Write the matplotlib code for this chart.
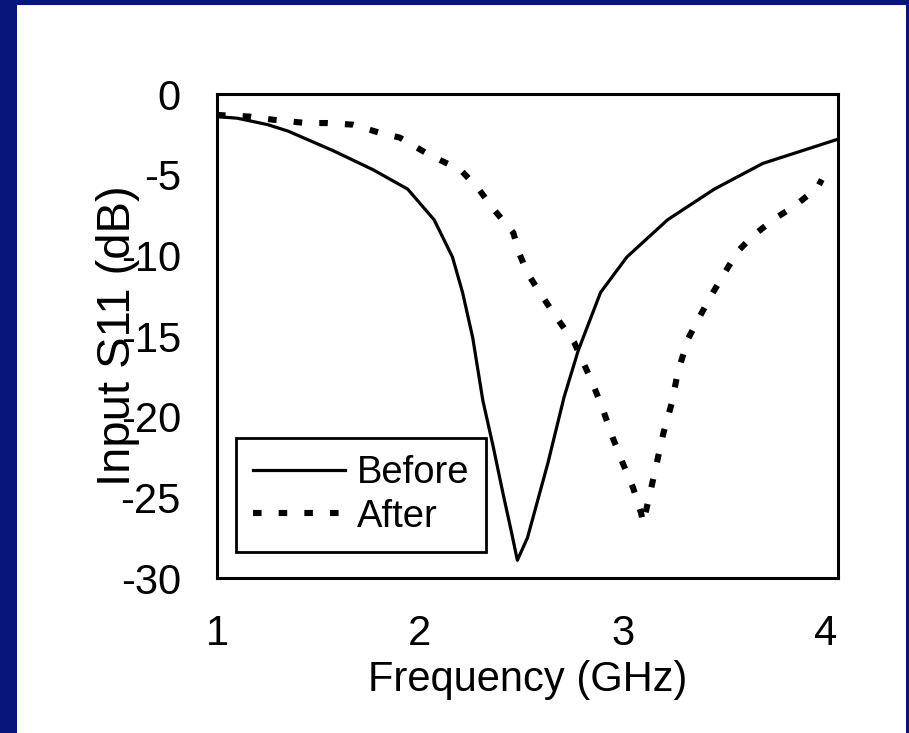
import matplotlib.pyplot as plt
from matplotlib.patches import Rectangle

plt.rcParams['font.family'] = ['Liberation Sans', 'DejaVu Sans']
plt.rcParams['axes.unicode_minus'] = False

# Datos
before_f = [1.0, 1.1, 1.25, 1.35, 1.57, 1.77, 1.94, 2.07, 2.16, 2.21, 2.26, 2.31,
            2.36, 2.41, 2.45, 2.48, 2.53, 2.63, 2.71, 2.78, 2.89, 3.02, 3.22, 3.45,
            3.69, 4.06]
before_s = [-1.4, -1.5, -1.9, -2.3, -3.5, -4.7, -5.9, -7.8, -10.1, -12.3, -15.1, -19.0,
            -21.8, -24.8, -27.1, -28.9, -27.5, -22.9, -18.8, -15.9, -12.3, -10.1, -7.8, -5.9,
            -4.3, -2.8]

after_f = [1.0, 1.16, 1.28, 1.44, 1.54, 1.67, 1.80, 1.90, 2.05, 2.20, 2.29, 2.36, 2.46,
           2.49, 2.53, 2.59, 2.67, 2.76, 2.85, 2.90, 2.95, 3.00, 3.05, 3.09, 3.10, 3.12,
           3.14, 3.17, 3.20, 3.24, 3.27, 3.32, 3.37, 3.43, 3.52, 3.57, 3.64, 3.74, 3.85,
           3.96, 3.98]
after_s = [-1.3, -1.4, -1.6, -1.8, -1.8, -1.9, -2.4, -2.7, -3.8, -4.7, -5.9, -7.1, -8.6,
           -9.9, -11.1, -12.3, -13.8, -15.4, -17.9, -19.5, -21.3, -22.9, -24.4, -26.0, -26.6, -25.5,
           -24.4, -22.7, -21.0, -19.2, -17.3, -15.2, -14.0, -12.6, -10.7, -9.7, -8.8, -7.8, -6.9,
           -5.8, -5.3]

x_ticks = [1, 2, 3, 4]
y_ticks = [0, -5, -10, -15, -20, -25, -30]

navy = '#08157a'
fig = plt.figure(figsize=(9.09, 7.33), dpi=100)
fig.patch.set_facecolor(navy)
fig.add_artist(Rectangle((17 / 909, 0), (906 - 17) / 909, (733 - 5) / 733,
                         transform=fig.transFigure, facecolor='white',
                         edgecolor='none', zorder=-1))

ax = fig.add_axes([217 / 909, 155 / 733, 621 / 909, 484 / 733])
ax.plot(before_f, before_s, color='black', lw=2.3, label='Before')
ax.plot(after_f, after_s, color='black', lw=4.4, dashes=(1.4, 2.8),
        dash_capstyle='butt', label='After')

ax.set_xlim(1, 4.06)
ax.set_ylim(-30, 0)
ax.set_xticks(x_ticks)
ax.set_yticks(y_ticks)
ax.tick_params(length=0, labelsize=30)
ax.tick_params(axis='x', pad=26)
ax.tick_params(axis='y', pad=26)
for s in ax.spines.values():
    s.set_linewidth(2.2)

ax.set_xlabel('Frequency (GHz)', fontsize=30, labelpad=4)
ax.set_ylabel('Input S11 (dB)', fontsize=34, labelpad=-14)

leg = ax.legend(loc='lower left', bbox_to_anchor=(0.031, 0.054), borderaxespad=0,
                fontsize=27.5, frameon=True, fancybox=False, framealpha=1,
                handlelength=2.4, handletextpad=0.3, labelspacing=0.2, borderpad=0.45)
leg.get_frame().set_edgecolor('black')
leg.get_frame().set_linewidth(2.0)

plt.savefig('out.png', dpi=100, facecolor=fig.get_facecolor())
